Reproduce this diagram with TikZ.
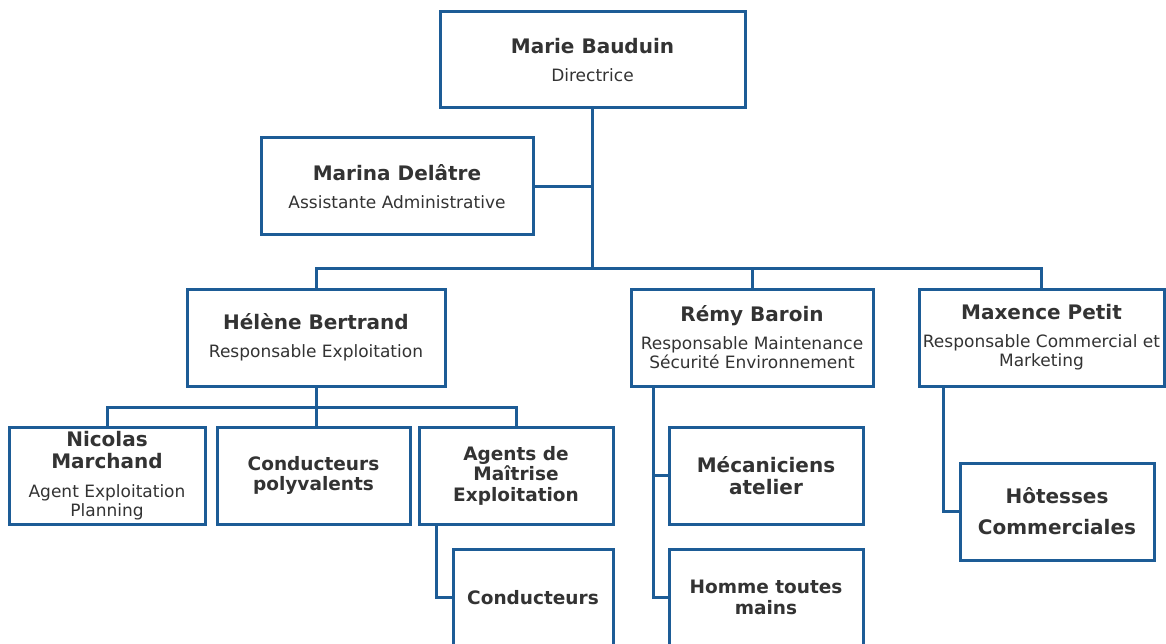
\documentclass[tikz,border=0pt]{standalone}
\usepackage{fontspec}
\setmainfont{DejaVu Sans}
\usetikzlibrary{positioning}
\definecolor{orgBlue}{HTML}{1D5C96}
\definecolor{orgText}{HTML}{333333}
\newcommand{\subfont}{\fontsize{17}{19}\selectfont\mdseries}

\begin{document}
\begin{tikzpicture}[
  x=1pt, y=-1pt,
  unit/.style={draw=orgBlue, line width=3pt, fill=white,
               minimum height=97pt, inner sep=0pt, align=center,
               text=orgText, font=\fontsize{20}{22}\selectfont\bfseries},
  unitsm/.style={unit, font=\fontsize{18.5}{20.5}\selectfont\bfseries},
  link/.style={draw=orgBlue, line width=3pt}
]
\useasboundingbox (0,0) rectangle (1166,644);
\clip (0,0) rectangle (1166,644);

% direction
\node[unit, minimum width=305pt, minimum height=96pt] (marie) at (592.5,60)
  {Marie Bauduin\\[6pt]\subfont Directrice};
\node[unit, minimum width=272pt] (marina) at (397,186.5)
  {Marina Delâtre\\[6pt]\subfont Assistante Administrative};

% responsables
\node[unit, minimum width=258pt] (helene)  at (316,337.5)
  {Hélène Bertrand\\[6pt]\subfont Responsable Exploitation};
\node[unit, minimum width=242pt] (remy)    at (752,337.5)
  {Rémy Baroin\\[6pt]\subfont Responsable Maintenance\\[-3pt]\subfont Sécurité Environnement};
\node[unit, minimum width=245pt] (maxence) at (1041.5,337.5)
  {Maxence Petit\\[6pt]\subfont Responsable Commercial et\\[-3pt]\subfont Marketing};

% exploitation
\node[unit, minimum width=196pt]   (nicolas)  at (107,475.5)
  {Nicolas\\Marchand\\[7pt]\subfont Agent Exploitation\\[-3pt]\subfont Planning};
\node[unitsm, minimum width=193pt] (condpoly) at (313.5,475.5)
  {Conducteurs\\polyvalents};
\node[unitsm, minimum width=194pt] (agents)   at (516,475.5)
  {Agents de\\Maîtrise\\Exploitation};
\node[unitsm, minimum width=160pt] (cond)     at (533,597.5)
  {Conducteurs};

% maintenance
\node[unit, minimum width=194pt]   (meca)  at (766,475.5)
  {Mécaniciens\\atelier};
\node[unitsm, minimum width=194pt] (homme) at (766,597.5)
  {Homme toutes\\mains};

% commercial
\node[unit, minimum width=194pt] (hotesses) at (1057,511.5)
  {Hôtesses\\[9pt]Commerciales};

% liaisons
\coordinate (bar)  at (592.5,268);
\coordinate (hbar) at (316,407);
\draw[link] (marie.south) -- (bar);
\draw[link] (marina.east) -- (marina.east -| marie.south);
\draw[link] (helene.north) |- (bar) -| (maxence.north);
\draw[link] (remy.north) -- (remy.north |- bar);
\draw[link] (nicolas.north) |- (hbar) -| (agents.north);
\draw[link] (helene.south) -- (hbar |- condpoly.north);
\draw[link] ([xshift=19pt]agents.south west) |- (cond.west);
\draw[link] ([xshift=24pt]remy.south west) |- (homme.west);
\draw[link] ([xshift=24pt]remy.south west) |- (meca.west);
\draw[link] ([xshift=26pt]maxence.south west) |- (hotesses.west);
\end{tikzpicture}
\end{document}
